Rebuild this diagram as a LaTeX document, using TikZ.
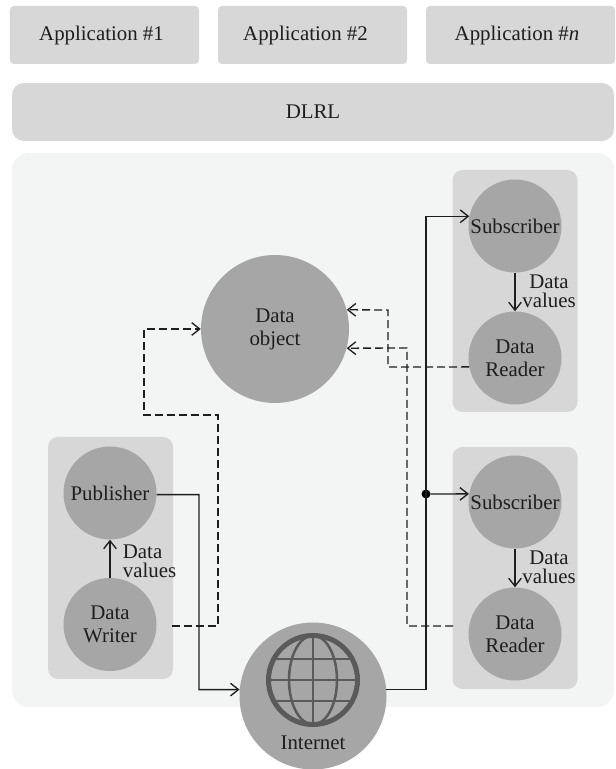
\documentclass[tikz,border=0pt]{standalone}
\usepackage{fontspec}
\setmainfont{Liberation Serif}
\usetikzlibrary{arrows.meta}
\definecolor{boxgray}{HTML}{D7D7D7}
\definecolor{panelgray}{HTML}{F3F5F4}
\definecolor{circlegray}{HTML}{A6A6A6}
\definecolor{globegray}{HTML}{5A5A5A}
\definecolor{inkgray}{HTML}{1E1E1E}
\tikzset{
    appbox/.style={fill=boxgray, rounded corners=0.12cm, minimum width=5.670000cm, minimum height=1.740000cm, inner sep=0pt},
    layerbox/.style={fill=boxgray, rounded corners=0.36cm, minimum width=18.060000cm, minimum height=1.740000cm, inner sep=0pt},
    panelbox/.style={fill=panelgray, rounded corners=0.50cm, minimum width=18.060000cm, minimum height=16.620000cm, inner sep=0pt},
    groupbox/.style={fill=boxgray, rounded corners=0.30cm, minimum width=3.750000cm, minimum height=7.260000cm, inner sep=0pt},
    entity/.style={circle, fill=circlegray, minimum size=2.790000cm, inner sep=0pt, align=center},
    caption/.style={inner sep=0pt, font=\fontsize{17.8}{15.8}\selectfont},
    link/.style={line width=0.040cm, draw=inkgray, -{Straight Barb[length=2.4mm,width=3.8mm]}},
    dashlink/.style={link, dash pattern=on 0.24cm off 0.12cm},
    every node/.style={text=inkgray, font=\fontsize{17.8}{19.5}\selectfont}
}
\begin{document}
\begin{tikzpicture}
    \useasboundingbox (0,0) rectangle (18.450000,23.070000);

    % Drawing the application row
    \node [appbox] (appone) at (3.135000,22.020000) {Application \#1\hspace*{0.180000cm}};
    \node [appbox] (apptwo) at (9.375000,22.020000) {Application \#2\hspace*{0.420000cm}};
    \node [appbox] (appn) at (15.615000,22.020000) {Application \#\textit{n}\hspace*{0.210000cm}};

    % Drawing the layer and the panel
    \node [layerbox] (dlrl) at (9.390000,19.710000) {DLRL};
    \node [panelbox] (panel) at (9.390000,10.170000) {};

    % Drawing the groups
    \node [groupbox] (groupwriter) at (3.315000,6.330000) {};
    \node [groupbox] (groupreadera) at (15.450000,14.340000) {};
    \node [groupbox] (groupreaderb) at (15.450000,6.030000) {};

    % Drawing the entities
    \node [entity] (publisher) at (3.300000,8.280000) {Publisher};
    \node [entity] (writer) at (3.300000,4.335000) {Data\\Writer};
    \node [entity] (subscribera) at (15.450000,16.290000) {Subscriber};
    \node [entity] (readera) at (15.450000,12.330000) {Data\\Reader};
    \node [entity] (subscriberb) at (15.450000,8.010000) {Subscriber};
    \node [entity] (readerb) at (15.450000,4.050000) {Data\\Reader};
    \node [entity, minimum size=4.440000cm] (dataobject) at (8.250000,13.200000) {Data\\object};

    % Drawing the internet circle and its globe
    \node [entity, minimum size=4.410000cm] (internet) at (9.390000,2.190000) {};
    \node [inner sep=0pt] (internetlabel) at (9.390000,0.780000) {Internet};
    \begin{scope}
        \clip (9.390000,2.670000) circle (1.335000);
        \draw [line width=0.075cm, globegray] (9.390000,2.670000) ellipse (0.720000 and 1.335000);
        \draw [line width=0.075cm, globegray] (9.390000,1.335000) -- (9.390000,4.005000);
        \draw [line width=0.075cm, globegray] (8.055000,2.670000) -- (10.725000,2.670000);
        \draw [line width=0.075cm, globegray] (8.055000,3.300000) -- (10.725000,3.300000);
        \draw [line width=0.075cm, globegray] (8.055000,2.040000) -- (10.725000,2.040000);
    \end{scope}
    \draw [line width=0.150cm, globegray] (9.390000,2.670000) circle (1.335000);

    % Drawing the data values arrows
    \draw [link] (writer) -- (publisher);
    \draw [link] (subscribera) -- (readera);
    \draw [link] (subscriberb) -- (readerb);
    \node [caption, anchor=west, align=left] (valueswriter) at (3.680000,6.225000) {Data\\values};
    \node [caption, align=center] (valuesa) at (16.470000,14.325000) {Data\\values};
    \node [caption, align=center] (valuesb) at (16.470000,6.045000) {Data\\values};

    % Drawing the network links
    \node [circle, fill=black, minimum size=0.270000cm, inner sep=0pt] (branch) at (12.780000,8.250000) {};
    \draw [link] (publisher.358) -| (5.970000,2.380000) -- (internet.175);
    \draw [link] (internet.5) -| (branch.center) |- (subscribera.168);
    \draw [link] (branch) -- (subscriberb.170);

    % Drawing the dashed links
    \coordinate (writerout) at (5.160000,4.290000);
    \coordinate (readerbout) at (13.590000,4.290000);
    \draw [dashlink] (writerout) -- (6.540000,4.290000) -- (6.540000,10.620000) -- (4.320000,10.620000) -- (4.320000,13.200000) -- (dataobject.west);
    \draw [dashlink] (readera.191) -- (11.640000,12.060000) -- (11.640000,13.770000) -- (dataobject.15);
    \draw [dashlink] (readerbout) -- (12.210000,4.290000) -- (12.210000,12.630000) -- (dataobject.-15);
\end{tikzpicture}
\end{document}
